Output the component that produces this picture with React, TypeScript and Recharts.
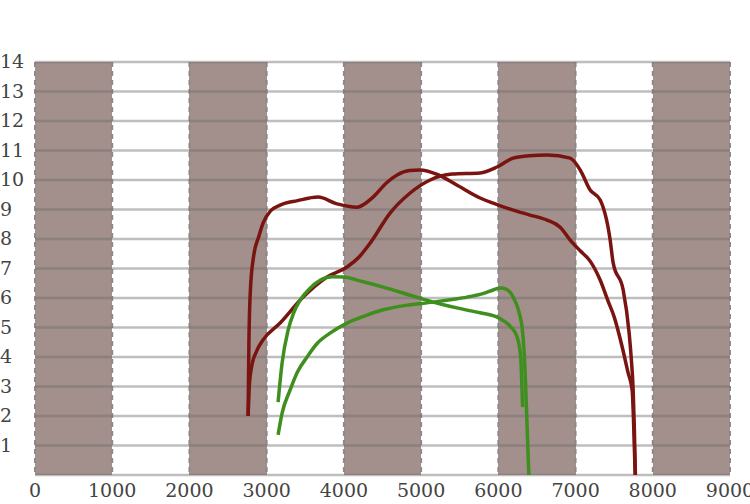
import React from "react";
import {
  LineChart,
  Line,
  XAxis,
  YAxis,
  CartesianGrid,
} from "recharts";

type Pt = { rpm: number; v: number };

const xTicks = [0, 1000, 2000, 3000, 4000, 5000, 6000, 7000, 8000, 9000];
const yTicks = [1, 2, 3, 4, 5, 6, 7, 8, 9, 10, 11, 12, 13, 14];

// [rpm, value] pairs
const redUpper: [number, number][] = [
  [2760, 2.0], [2770, 4.5], [2790, 6.3], [2830, 7.4], [2900, 8.1], [2953, 8.54],
  [3050, 8.95], [3174, 9.15], [3400, 9.3], [3666, 9.42], [3900, 9.2], [4171, 9.08],
  [4378, 9.42], [4550, 9.9], [4689, 10.17], [4850, 10.32], [4987, 10.34], [5200, 10.2],
  [5450, 9.85], [5764, 9.39], [6000, 9.15], [6192, 8.98], [6400, 8.82], [6632, 8.64],
  [6800, 8.4], [6950, 7.9], [7060, 7.6], [7189, 7.25], [7320, 6.6], [7420, 5.9],
  [7500, 5.36], [7604, 4.34], [7681, 3.46], [7733, 2.88], [7755, 1.5], [7772, 0],
];

const redLower: [number, number][] = [
  [2760, 2.0], [2775, 3.0], [2800, 3.6], [2870, 4.2], [2953, 4.58], [3174, 5.15],
  [3472, 6.03], [3782, 6.71], [4041, 7.05], [4200, 7.4], [4340, 7.86], [4598, 8.88],
  [4858, 9.56], [5117, 10.0], [5400, 10.2], [5764, 10.24], [5984, 10.44], [6192, 10.74],
  [6400, 10.82], [6632, 10.85], [6930, 10.74], [7060, 10.34], [7189, 9.66], [7319, 9.32],
  [7448, 7.97], [7487, 7.19], [7617, 6.27], [7694, 4.81], [7720, 4.0], [7746, 2.88],
  [7762, 1.5], [7775, 0],
];

const greenPeak: [number, number][] = [
  [3148, 2.47], [3200, 3.8], [3277, 4.9], [3350, 5.5], [3433, 5.93], [3550, 6.3],
  [3692, 6.6], [3850, 6.72], [3990, 6.71], [4250, 6.55], [4508, 6.37], [4850, 6.1],
  [5155, 5.86], [5596, 5.59], [5764, 5.5], [6023, 5.3], [6150, 5.05], [6243, 4.68],
  [6290, 4.0], [6305, 3.0], [6315, 2.3],
];

const greenRise: [number, number][] = [
  [3148, 1.36], [3200, 2.1], [3303, 2.88], [3400, 3.5], [3523, 4.0], [3650, 4.45],
  [3821, 4.81], [4041, 5.15], [4300, 5.42], [4508, 5.6], [4800, 5.75], [5155, 5.86],
  [5400, 5.95], [5596, 6.03], [5800, 6.15], [5933, 6.27], [6023, 6.34], [6100, 6.3],
  [6192, 6.03], [6280, 5.4], [6308, 5.0], [6335, 4.13], [6365, 2.2], [6395, 0],
];

const toPts = (arr: [number, number][]): Pt[] => arr.map(([rpm, v]) => ({ rpm, v }));

const RED = "#7a1411";
const GREEN = "#3f8f1f";
const FONT = "DejaVu Serif";

const XTick = (props: any) => {
  const { x, y, payload } = props;
  return (
    <text x={x} y={y + 14} textAnchor="middle" fontFamily={FONT} fontSize={19} fill="#444">
      {payload.value}
    </text>
  );
};

const YTick = (props: any) => {
  const { y, payload } = props;
  return (
    <text x={0} y={y + 6} textAnchor="start" fontFamily={FONT} fontSize={19} fill="#444">
      {payload.value}
    </text>
  );
};

export default function App() {
  return (
    <div style={{ position: "absolute", left: 0, top: 0, background: "#fff" }}>
      <LineChart
        width={750}
        height={504}
        margin={{ top: 62, right: 20, bottom: 0, left: 0 }}
      >
        <CartesianGrid
          vertical
          horizontal={false}
          verticalFill={["#a38f8b", "#ffffff"]}
          stroke="#8a8a8a"
          strokeWidth={2}
          strokeDasharray="5 4"
        />
        <CartesianGrid
          vertical={false}
          horizontal
          stroke="#6f6f6f"
          strokeOpacity={0.45}
          strokeWidth={2.5}
        />
        <XAxis
          type="number"
          dataKey="rpm"
          domain={[0, 9000]}
          ticks={xTicks}
          height={29}
          axisLine={false}
          tickLine={false}
          tick={<XTick />}
          allowDataOverflow
        />
        <YAxis
          type="number"
          dataKey="v"
          domain={[0, 14]}
          ticks={yTicks}
          width={35}
          axisLine={false}
          tickLine={false}
          tick={<YTick />}
          allowDataOverflow
        />
        <Line data={toPts(redUpper)} dataKey="v" type="monotone" stroke={RED} strokeWidth={3.5} dot={false} isAnimationActive={false} />
        <Line data={toPts(redLower)} dataKey="v" type="monotone" stroke={RED} strokeWidth={3.5} dot={false} isAnimationActive={false} />
        <Line data={toPts(greenPeak)} dataKey="v" type="monotone" stroke={GREEN} strokeWidth={3.5} dot={false} isAnimationActive={false} />
        <Line data={toPts(greenRise)} dataKey="v" type="monotone" stroke={GREEN} strokeWidth={3.5} dot={false} isAnimationActive={false} />
      </LineChart>
    </div>
  );
}
